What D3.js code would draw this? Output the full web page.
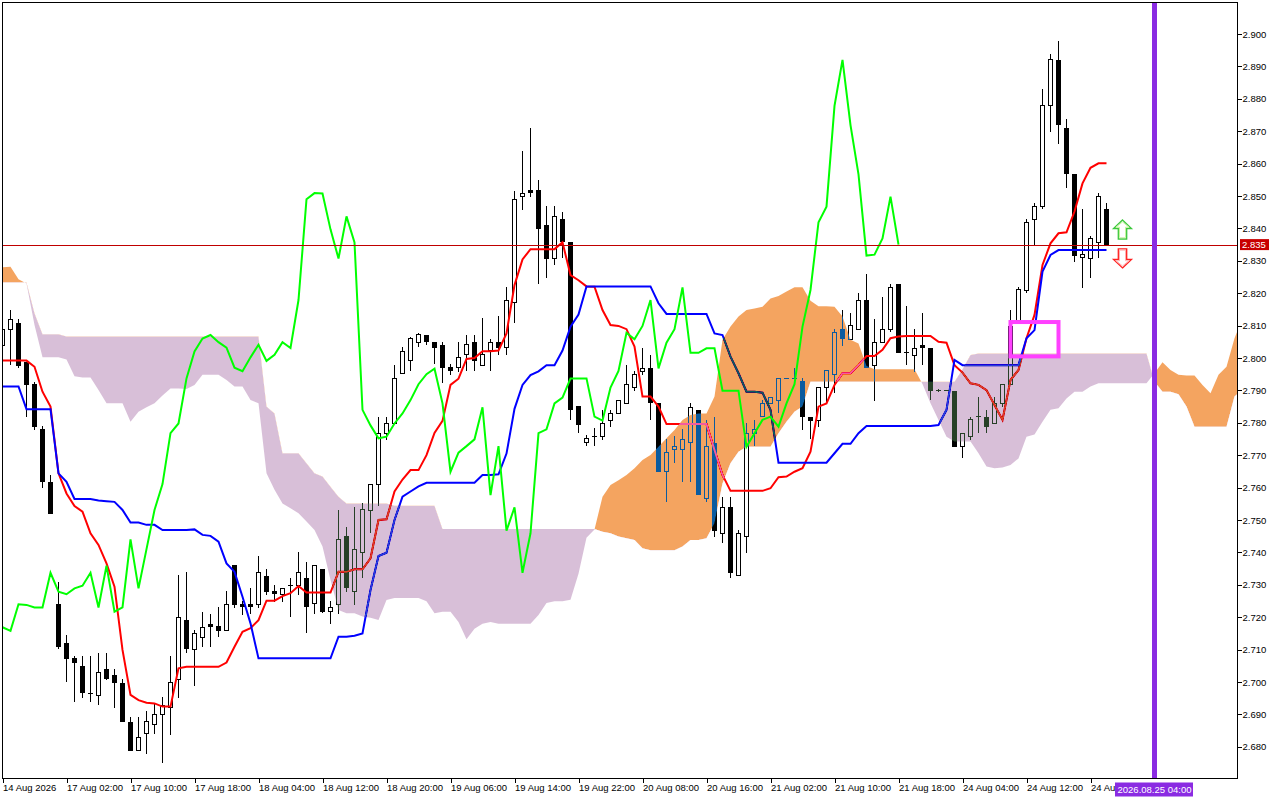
<!DOCTYPE html>
<html>
<head>
<meta charset="utf-8">
<title>Ichimoku H1</title>
<script src="https://cdn.jsdelivr.net/npm/d3@7"></script>
<style>
  body { margin: 0; background: #fff; }
  svg { display: block; font-family: "Liberation Sans", Arial, sans-serif; font-size: 9.5px; }
  .axis text { fill: #000; }
  .axis line { stroke: #000; shape-rendering: crispEdges; }
</style>
</head>
<body>
<div id="chart"></div>
<script>
// hourly candles, bar 0 = 14 Aug 2026 (left edge of the window)
const open = [
  2.8040, 2.8089, 2.8109, 2.7989, 2.7920, 2.7780, 2.7618, 2.7241, 2.7121, 2.7073,
  2.7049, 2.6967, 2.6958, 2.7039, 2.7021, 2.6998, 2.6878, 2.6788, 2.6840, 2.6869,
  2.6900, 2.6922, 2.7008, 2.7191, 2.7101, 2.7138, 2.7179, 2.7172, 2.7158, 2.7361,
  2.7241, 2.7241, 2.7238, 2.7328, 2.7281, 2.7271, 2.7297, 2.7297, 2.7320, 2.7241,
  2.7349, 2.7217, 2.7240, 2.7451, 2.7279, 2.7400, 2.7529, 2.7611, 2.7768, 2.7798,
  2.7951, 2.7991, 2.8049, 2.8071, 2.8049, 2.8041, 2.7972, 2.7970, 2.8010, 2.8049,
  2.7978, 2.8023, 2.8049, 2.8032, 2.8172, 2.8498, 2.8518, 2.8518, 2.8410, 2.8307,
  2.8428, 2.8359, 2.7851, 2.7739, 2.7757, 2.7757, 2.7807, 2.7829, 2.7860, 2.7909,
  2.7958, 2.7968, 2.7860, 2.7649, 2.7718, 2.7718, 2.7739, 2.7840, 2.7567, 2.7739,
  2.7459, 2.7539, 2.7330, 2.7449, 2.7768, 2.7819, 2.7860, 2.7870, 2.7937, 2.7937,
  2.7929, 2.7819, 2.7807, 2.7909, 2.7950, 2.8089, 2.8058, 2.8089, 2.8179, 2.7978,
  2.8047, 2.8089, 2.8228, 2.8016, 2.8009, 2.8040, 2.8030, 2.7899, 2.7899, 2.7899,
  2.7726, 2.7757, 2.7819, 2.7819, 2.7798, 2.7860, 2.7919, 2.8117, 2.8207, 2.8429,
  2.8467, 2.8778, 2.8920, 2.8709, 2.8567, 2.8310, 2.8308, 2.8357, 2.8460
];
const high = [
  2.8100, 2.8148, 2.8120, 2.7989, 2.7925, 2.7789, 2.7639, 2.7308, 2.7146, 2.7080,
  2.7080, 2.7080, 2.7089, 2.7089, 2.7039, 2.7008, 2.6893, 2.6893, 2.6911, 2.6932,
  2.6953, 2.7080, 2.7330, 2.7340, 2.7160, 2.7217, 2.7209, 2.7230, 2.7281, 2.7361,
  2.7251, 2.7289, 2.7389, 2.7349, 2.7299, 2.7289, 2.7322, 2.7400, 2.7369, 2.7359,
  2.7349, 2.7250, 2.7531, 2.7479, 2.7541, 2.7552, 2.7611, 2.7819, 2.7819, 2.7978,
  2.8034, 2.8065, 2.8078, 2.8071, 2.8049, 2.8049, 2.7981, 2.8049, 2.8071, 2.8071,
  2.8122, 2.8060, 2.8129, 2.8219, 2.8516, 2.8638, 2.8710, 2.8548, 2.8469, 2.8469,
  2.8452, 2.8359, 2.7851, 2.7763, 2.7784, 2.7840, 2.7840, 2.7870, 2.7978, 2.7960,
  2.8030, 2.8009, 2.7860, 2.7749, 2.7759, 2.7780, 2.7860, 2.7840, 2.7809, 2.7819,
  2.7570, 2.7570, 2.7469, 2.7798, 2.7809, 2.7870, 2.7878, 2.7937, 2.7937, 2.7968,
  2.7937, 2.7819, 2.7909, 2.7960, 2.8089, 2.8148, 2.8138, 2.8200, 2.8259, 2.8119,
  2.8187, 2.8228, 2.8228, 2.8160, 2.8089, 2.8138, 2.8030, 2.7905, 2.7899, 2.7899,
  2.7768, 2.7819, 2.7881, 2.7840, 2.7881, 2.7919, 2.8148, 2.8220, 2.8429, 2.8477,
  2.8830, 2.8937, 2.8978, 2.8737, 2.8567, 2.8460, 2.8378, 2.8508, 2.8477
];
const low = [
  2.8020, 2.7978, 2.7970, 2.7819, 2.7778, 2.7598, 2.7518, 2.7101, 2.7001, 2.6939,
  2.6950, 2.6939, 2.6929, 2.7005, 2.6919, 2.6878, 2.6788, 2.6788, 2.6778, 2.6840,
  2.6749, 2.6836, 2.6950, 2.7089, 2.6988, 2.7109, 2.7109, 2.7138, 2.7158, 2.7227,
  2.7207, 2.7210, 2.7227, 2.7269, 2.7248, 2.7248, 2.7202, 2.7269, 2.7150, 2.7210,
  2.7213, 2.7178, 2.7209, 2.7279, 2.7238, 2.7320, 2.7459, 2.7543, 2.7747, 2.7798,
  2.7951, 2.7959, 2.8034, 2.8039, 2.7981, 2.7922, 2.7949, 2.7957, 2.7959, 2.7959,
  2.7978, 2.7959, 2.8010, 2.8010, 2.8108, 2.8458, 2.8498, 2.8227, 2.8248, 2.8288,
  2.8309, 2.7809, 2.7769, 2.7728, 2.7728, 2.7747, 2.7788, 2.7829, 2.7860, 2.7899,
  2.7948, 2.7809, 2.7649, 2.7557, 2.7677, 2.7618, 2.7618, 2.7577, 2.7557, 2.7449,
  2.7428, 2.7320, 2.7330, 2.7399, 2.7728, 2.7819, 2.7860, 2.7829, 2.7937, 2.7937,
  2.7778, 2.7749, 2.7788, 2.7860, 2.7891, 2.8037, 2.8058, 2.8089, 2.7968, 2.7868,
  2.8047, 2.8079, 2.8016, 2.7978, 2.7958, 2.7978, 2.7870, 2.7895, 2.7899, 2.7726,
  2.7690, 2.7747, 2.7768, 2.7768, 2.7798, 2.7850, 2.7919, 2.8110, 2.8200, 2.8349,
  2.8460, 2.8699, 2.8660, 2.8526, 2.8297, 2.8217, 2.8248, 2.8308, 2.8350
];
const close = [
  2.8089, 2.8119, 2.7975, 2.7917, 2.7787, 2.7618, 2.7518, 2.7109, 2.7070, 2.7060,
  2.6967, 2.6965, 2.7030, 2.7008, 2.6998, 2.6878, 2.6788, 2.6829, 2.6878, 2.6900,
  2.6928, 2.6999, 2.7200, 2.7101, 2.7150, 2.7169, 2.7169, 2.7158, 2.7240, 2.7238,
  2.7230, 2.7230, 2.7337, 2.7279, 2.7271, 2.7289, 2.7297, 2.7337, 2.7230, 2.7359,
  2.7217, 2.7230, 2.7440, 2.7289, 2.7410, 2.7531, 2.7611, 2.7768, 2.7798, 2.7937,
  2.8020, 2.8060, 2.8071, 2.8049, 2.8032, 2.7970, 2.7959, 2.8002, 2.8041, 2.7991,
  2.8010, 2.8049, 2.8031, 2.8179, 2.8490, 2.8509, 2.8508, 2.8397, 2.8307, 2.8437,
  2.8357, 2.7840, 2.7792, 2.7752, 2.7757, 2.7798, 2.7829, 2.7870, 2.7919, 2.7950,
  2.7967, 2.7860, 2.7649, 2.7708, 2.7728, 2.7749, 2.7848, 2.7577, 2.7728, 2.7467,
  2.7539, 2.7337, 2.7459, 2.7768, 2.7780, 2.7860, 2.7878, 2.7937, 2.7937, 2.7937,
  2.7819, 2.7807, 2.7909, 2.7960, 2.8078, 2.8058, 2.8099, 2.8179, 2.7968, 2.8047,
  2.8089, 2.8218, 2.8016, 2.8016, 2.8030, 2.8030, 2.7899, 2.7899, 2.7899, 2.7726,
  2.7768, 2.7809, 2.7819, 2.7788, 2.7860, 2.7919, 2.8097, 2.8210, 2.8419, 2.8467,
  2.8778, 2.8920, 2.8719, 2.8567, 2.8316, 2.8319, 2.8369, 2.8498, 2.8350
];

// Ichimoku lines
const tenkan = [
  2.7992, 2.7992, 2.7992, 2.7992, 2.7973, 2.7896, 2.7850, 2.7644, 2.7582, 2.7543,
  2.7526, 2.7459, 2.7423, 2.7366, 2.7294, 2.7099, 2.6960, 2.6944, 2.6936, 2.6934,
  2.6924, 2.6924, 2.7042, 2.7047, 2.7047, 2.7047, 2.7047, 2.7047, 2.7060, 2.7109,
  2.7155, 2.7166, 2.7191, 2.7251, 2.7251, 2.7265, 2.7274, 2.7296, 2.7276, 2.7276,
  2.7276, 2.7276, 2.7340, 2.7340, 2.7348, 2.7348, 2.7382, 2.7500, 2.7502, 2.7588,
  2.7625, 2.7654, 2.7654, 2.7700, 2.7769, 2.7806, 2.7917, 2.7936, 2.7997, 2.8000,
  2.8021, 2.8021, 2.8023, 2.8076, 2.8225, 2.8304, 2.8336, 2.8336, 2.8336, 2.8336,
  2.8357, 2.8256, 2.8240, 2.8221, 2.8220, 2.8148, 2.8102, 2.8099, 2.8089, 2.8035,
  2.7881, 2.7881, 2.7850, 2.7796, 2.7796, 2.7796, 2.7796, 2.7796, 2.7796, 2.7716,
  2.7639, 2.7590, 2.7590, 2.7590, 2.7590, 2.7590, 2.7598, 2.7632, 2.7634, 2.7649,
  2.7660, 2.7711, 2.7850, 2.7860, 2.7917, 2.7953, 2.7953, 2.7978, 2.8006, 2.8006,
  2.8025, 2.8061, 2.8066, 2.8068, 2.8068, 2.8068, 2.8068, 2.8050, 2.8047, 2.7978,
  2.7955, 2.7922, 2.7917, 2.7901, 2.7855, 2.7809, 2.7932, 2.7963, 2.8061, 2.8133,
  2.8287, 2.8354, 2.8385, 2.8388, 2.8452, 2.8539, 2.8587, 2.8601, 2.8601
];
const kijun = [
  2.7912, 2.7912, 2.7912, 2.7842, 2.7842, 2.7842, 2.7842, 2.7644, 2.7618, 2.7565,
  2.7565, 2.7565, 2.7560, 2.7558, 2.7556, 2.7531, 2.7492, 2.7492, 2.7485, 2.7485,
  2.7469, 2.7469, 2.7469, 2.7469, 2.7471, 2.7454, 2.7451, 2.7433, 2.7366, 2.7340,
  2.7263, 2.7181, 2.7073, 2.7073, 2.7073, 2.7073, 2.7073, 2.7073, 2.7073, 2.7073,
  2.7073, 2.7073, 2.7140, 2.7140, 2.7143, 2.7150, 2.7284, 2.7389, 2.7399, 2.7500,
  2.7572, 2.7588, 2.7604, 2.7615, 2.7615, 2.7615, 2.7615, 2.7615, 2.7615, 2.7615,
  2.7639, 2.7639, 2.7641, 2.7705, 2.7843, 2.7917, 2.7947, 2.7959, 2.7978, 2.7978,
  2.8023, 2.8097, 2.8134, 2.8221, 2.8221, 2.8221, 2.8221, 2.8221, 2.8221, 2.8221,
  2.8221, 2.8221, 2.8169, 2.8136, 2.8136, 2.8136, 2.8136, 2.8136, 2.8136, 2.8076,
  2.8071, 2.8004, 2.7953, 2.7896, 2.7896, 2.7893, 2.7840, 2.7677, 2.7677, 2.7677,
  2.7677, 2.7677, 2.7677, 2.7677, 2.7706, 2.7735, 2.7735, 2.7768, 2.7790, 2.7790,
  2.7790, 2.7790, 2.7790, 2.7790, 2.7790, 2.7790, 2.7790, 2.7793, 2.7840, 2.7994,
  2.7978, 2.7978, 2.7978, 2.7978, 2.7978, 2.7978, 2.7978, 2.7978, 2.8061, 2.8086,
  2.8267, 2.8318, 2.8333, 2.8333, 2.8333, 2.8333, 2.8333, 2.8333, 2.8333
];
// cloud, already shifted 26 bars forward (runs past the last candle)
const spanA = [
  2.8280, 2.8282, 2.8243, 2.8230, 2.8102, 2.8002, 2.8002, 2.8002, 2.7995, 2.7944,
  2.7940, 2.7940, 2.7901, 2.7860, 2.7860, 2.7860, 2.7803, 2.7834, 2.7848, 2.7860,
  2.7884, 2.7906, 2.7906, 2.7904, 2.7917, 2.7948, 2.7948, 2.7948, 2.7932, 2.7912,
  2.7912, 2.7870, 2.7860, 2.7644, 2.7593, 2.7551, 2.7536, 2.7521, 2.7495, 2.7469,
  2.7418, 2.7315, 2.7222, 2.7212, 2.7212, 2.7202, 2.7198, 2.7191, 2.7253, 2.7259,
  2.7259, 2.7259, 2.7259, 2.7249, 2.7212, 2.7217, 2.7217, 2.7185, 2.7132, 2.7164,
  2.7180, 2.7185, 2.7180, 2.7180, 2.7180, 2.7180, 2.7180, 2.7207, 2.7244, 2.7249,
  2.7249, 2.7254, 2.7334, 2.7445, 2.7471, 2.7572, 2.7608, 2.7623, 2.7639, 2.7660,
  2.7685, 2.7701, 2.7726, 2.7752, 2.7778, 2.7809, 2.7824, 2.7829, 2.7829, 2.7881,
  2.8056, 2.8097, 2.8128, 2.8148, 2.8153, 2.8158, 2.8184, 2.8191, 2.8205, 2.8218,
  2.8218, 2.8177, 2.8160, 2.8160, 2.8158, 2.8128, 2.8056, 2.8045, 2.7975, 2.7965,
  2.7965, 2.7965, 2.7965, 2.7965, 2.7965, 2.7920, 2.7860, 2.7809, 2.7757, 2.7742,
  2.7742, 2.7742, 2.7706, 2.7665, 2.7660, 2.7662, 2.7670, 2.7690, 2.7757, 2.7764,
  2.7803, 2.7840, 2.7845, 2.7875, 2.7896, 2.7896, 2.7912, 2.7922, 2.7922, 2.7922,
  2.7922, 2.7922, 2.7922, 2.7922, 2.7953, 2.7987, 2.7963, 2.7948, 2.7946, 2.7946,
  2.7917, 2.7891, 2.7948, 2.7973, 2.8061, 2.8122
];
const spanB = [
  2.8233, 2.8233, 2.8233, 2.8233, 2.8138, 2.8073, 2.8073, 2.8073, 2.8066, 2.8066,
  2.8066, 2.8066, 2.8066, 2.8066, 2.8066, 2.8066, 2.8066, 2.8066, 2.8066, 2.8066,
  2.8066, 2.8066, 2.8066, 2.8066, 2.8066, 2.8066, 2.8066, 2.8066, 2.8066, 2.8066,
  2.8066, 2.8066, 2.8066, 2.7850, 2.7829, 2.7706, 2.7706, 2.7706, 2.7675, 2.7644,
  2.7634, 2.7603, 2.7572, 2.7551, 2.7551, 2.7551, 2.7551, 2.7551, 2.7551, 2.7544,
  2.7544, 2.7544, 2.7544, 2.7544, 2.7544, 2.7472, 2.7472, 2.7472, 2.7472, 2.7472,
  2.7472, 2.7472, 2.7472, 2.7472, 2.7472, 2.7472, 2.7472, 2.7472, 2.7472, 2.7472,
  2.7472, 2.7472, 2.7472, 2.7472, 2.7472, 2.7464, 2.7459, 2.7449, 2.7444, 2.7438,
  2.7413, 2.7407, 2.7407, 2.7407, 2.7407, 2.7418, 2.7438, 2.7438, 2.7444, 2.7490,
  2.7613, 2.7675, 2.7711, 2.7726, 2.7726, 2.7726, 2.7726, 2.7768, 2.7803, 2.7834,
  2.7850, 2.7927, 2.7927, 2.7927, 2.7927, 2.7927, 2.7927, 2.7927, 2.7927, 2.7927,
  2.7927, 2.7927, 2.7927, 2.7927, 2.7927, 2.7927, 2.7927, 2.7927, 2.7927, 2.7927,
  2.7965, 2.8009, 2.8014, 2.8014, 2.8014, 2.8014, 2.8014, 2.8014, 2.8014, 2.8014,
  2.8014, 2.8014, 2.8014, 2.8014, 2.8014, 2.8014, 2.8014, 2.8014, 2.8014, 2.8014,
  2.8014, 2.8014, 2.8014, 2.8014, 2.7927, 2.7896, 2.7896, 2.7888, 2.7850, 2.7788,
  2.7788, 2.7788, 2.7788, 2.7788, 2.7881, 2.7902
];
const chikouShift = 26;

const priceTicks = [2.680, 2.690, 2.700, 2.710, 2.720, 2.730, 2.740, 2.750, 2.760, 2.770, 2.780,
  2.790, 2.800, 2.810, 2.820, 2.830, 2.840, 2.850, 2.860, 2.870, 2.880, 2.890, 2.900];
const timeTickBars = [0, 8, 16, 24, 32, 40, 48, 56, 64, 72, 80, 88, 96, 104, 112, 120, 128, 136];
const timeTickLabels = ["14 Aug 2026", "17 Aug 02:00", "17 Aug 10:00", "17 Aug 18:00", "18 Aug 04:00",
  "18 Aug 12:00", "18 Aug 20:00", "19 Aug 06:00", "19 Aug 14:00", "19 Aug 22:00", "20 Aug 08:00",
  "20 Aug 16:00", "21 Aug 02:00", "21 Aug 10:00", "21 Aug 18:00", "24 Aug 04:00", "24 Aug 12:00",
  "24 Aug 20:00"];

const lastPrice = 2.835;
const vline = { bar: 144, label: "2026.08.25 04:00" };
const box = { bar1: 126, bar2: 132, price1: 2.8111, price2: 2.8005 };
const arrows = [
  { bar: 140, price: 2.8426, dir: "up" },
  { bar: 140, price: 2.8278, dir: "down" }
];

// layout
const W = 1280, H = 800;
const pLeft = 2.5, pTop = 2.5, pRight = 1237.5, pBottom = 778.5;

const x = d3.scaleLinear().domain([0, 100]).range([2.5, 802.5]);   // 8px per bar
const y = d3.scaleLinear().domain([2.680, 2.900]).range([746.8, 34]);

const svg = d3.select("#chart").append("svg")
    .attr("width", W)
    .attr("height", H);

svg.append("rect").attr("width", W).attr("height", H).attr("fill", "#fff");

const defs = svg.append("defs");
defs.append("clipPath").attr("id", "plot-clip")
  .append("rect")
    .attr("x", pLeft).attr("y", pTop)
    .attr("width", pRight - pLeft).attr("height", pBottom - pTop);

const cloudIdx = d3.range(spanA.length);
defs.append("clipPath").attr("id", "above-b")
  .append("path")
    .attr("d", d3.area().x(i => x(i)).y0(i => y(spanB[i])).y1(-10)(cloudIdx));
defs.append("clipPath").attr("id", "below-b")
  .append("path")
    .attr("d", d3.area().x(i => x(i)).y0(i => y(spanB[i])).y1(H + 10)(cloudIdx));

const plotG = svg.append("g").attr("clip-path", "url(#plot-clip)");
plotG.append("rect")
    .attr("x", pLeft).attr("y", pTop)
    .attr("width", pRight - pLeft).attr("height", pBottom - pTop)
    .attr("fill", "#fff");

////////////////////////////////////////////////////////////
// candles
////////////////////////////////////////////////////////////
const bars = d3.range(close.length);
const candleG = plotG.append("g").attr("shape-rendering", "crispEdges");

candleG.selectAll("line.wick")
  .data(bars)
  .join("line")
    .attr("class", "wick")
    .attr("x1", i => x(i)).attr("x2", i => x(i))
    .attr("y1", i => y(high[i])).attr("y2", i => y(low[i]))
    .attr("stroke", "#000");

candleG.selectAll("path.body")
  .data(bars)
  .join("path")
    .attr("class", "body")
    .attr("d", i => {
      const cx = x(i), yo = y(open[i]), yc = y(close[i]);
      if (Math.abs(yo - yc) < 1) return `M${cx - 2.5},${yc}H${cx + 2.5}`;
      if (close[i] > open[i]) return `M${cx - 2},${yc}H${cx + 2}V${yo}H${cx - 2}Z`;
      return `M${cx - 2.5},${yo}H${cx + 2.5}V${yc}H${cx - 2.5}Z`;
    })
    .attr("fill", i => close[i] > open[i] ? "#fff" : "#000")
    .attr("stroke", i => close[i] > open[i] || Math.abs(y(open[i]) - y(close[i])) < 1 ? "#000" : "none");

////////////////////////////////////////////////////////////
// tenkan / kijun
////////////////////////////////////////////////////////////
const line = d3.line().x((d, i) => x(i)).y(d => y(d));

plotG.append("path")
    .attr("d", line(tenkan))
    .attr("fill", "none").attr("stroke", "#ff0000").attr("stroke-width", 2);
plotG.append("path")
    .attr("d", line(kijun))
    .attr("fill", "none").attr("stroke", "#0000ff").attr("stroke-width", 2);

////////////////////////////////////////////////////////////
// kumo - painted like the terminal does, inverting what is under it
////////////////////////////////////////////////////////////
const cloudArea = d3.area().x(i => x(i)).y0(i => y(spanB[i])).y1(i => y(spanA[i]));
const cloudG = plotG.append("g").style("mix-blend-mode", "difference");
// sandy brown where A is above B (inverse colour, blended by difference)
cloudG.append("path")
    .attr("d", cloudArea(cloudIdx))
    .attr("clip-path", "url(#above-b)")
    .attr("fill", "#0b5b9f");
// thistle where B is above A
cloudG.append("path")
    .attr("d", cloudArea(cloudIdx))
    .attr("clip-path", "url(#below-b)")
    .attr("fill", "#274027");

////////////////////////////////////////////////////////////
// objects
////////////////////////////////////////////////////////////
plotG.append("rect")
    .attr("x", x(box.bar1)).attr("y", y(box.price1))
    .attr("width", x(box.bar2) - x(box.bar1))
    .attr("height", y(box.price2) - y(box.price1))
    .attr("fill", "none").attr("stroke", "#ff40ff").attr("stroke-width", 4);

// chikou = close shifted back 26 bars
const chikou = close.slice(chikouShift);
plotG.append("path")
    .attr("d", line(chikou))
    .attr("fill", "none").attr("stroke", "#00ff00").attr("stroke-width", 2);

// bid line
plotG.append("line")
    .attr("x1", pLeft).attr("x2", pRight)
    .attr("y1", Math.round(y(lastPrice)) + 0.5).attr("y2", Math.round(y(lastPrice)) + 0.5)
    .attr("stroke", "#c00000").attr("stroke-width", 1);

// vertical line
plotG.append("line")
    .attr("x1", x(vline.bar)).attr("x2", x(vline.bar))
    .attr("y1", pTop).attr("y2", pBottom)
    .attr("stroke", "#8a2be2").attr("stroke-width", 5);

// arrows
const arrowG = plotG.append("g").selectAll("g")
  .data(arrows)
  .join("g")
    .attr("transform", d => `translate(${x(d.bar)},${y(d.price)}) scale(1,${d.dir === "up" ? 1 : -1})`);
arrowG.append("path")
    .attr("d", "M0,0L9,8.5H4.2V19H-4.2V8.5H-9Z")
    .attr("fill", "#fff")
    .attr("stroke", d => d.dir === "up" ? "#3cc83c" : "#ff2020")
    .attr("stroke-width", 1.3);
arrowG.append("path")
    .attr("d", "M0,2L6.5,7.2H3V17.8H-3V7.2H-6.5Z")
    .attr("fill", "none")
    .attr("stroke", d => d.dir === "up" ? "#c6f3a0" : "#ffb0b0")
    .attr("stroke-width", 1);

////////////////////////////////////////////////////////////
// frame and axes
////////////////////////////////////////////////////////////
svg.append("rect")
    .attr("x", pLeft).attr("y", pTop)
    .attr("width", pRight - pLeft).attr("height", pBottom - pTop)
    .attr("fill", "none").attr("stroke", "#000")
    .attr("shape-rendering", "crispEdges");

const yAxis = d3.axisRight(y)
    .tickValues(priceTicks)
    .tickSize(4)
    .tickPadding(1)
    .tickFormat(d3.format(".3f"));
svg.append("g")
    .attr("class", "axis")
    .attr("transform", `translate(${pRight},0)`)
    .call(yAxis)
    .call(g => g.select(".domain").remove())
    .call(g => g.selectAll("text").attr("font-size", 9.5));

// the vertical line's date tag sits over the last time label, cut it there
const tagLeft = x(vline.bar) - 39.5;
const lastTickX = x(timeTickBars[timeTickBars.length - 1]);
defs.append("clipPath").attr("id", "last-label-clip")
  .append("rect")
    .attr("x", -4).attr("y", -2)
    .attr("width", tagLeft - lastTickX + 4).attr("height", 24);

const xAxis = d3.axisBottom(x)
    .tickValues(timeTickBars)
    .tickSize(4)
    .tickPadding(2)
    .tickFormat((d, i) => timeTickLabels[i]);
svg.append("g")
    .attr("class", "axis")
    .attr("transform", `translate(0,${pBottom})`)
    .call(xAxis)
    .call(g => g.select(".domain").remove())
    .call(g => g.selectAll("text").attr("text-anchor", "start").attr("font-size", 9.5))
    .call(g => g.selectAll(".tick").filter((d, i) => i === timeTickBars.length - 1)
        .select("text").attr("clip-path", "url(#last-label-clip)"));

// last price tag
const py = y(lastPrice);
svg.append("rect")
    .attr("x", 1240).attr("y", py - 5.5)
    .attr("width", 29).attr("height", 11)
    .attr("fill", "#c80000");
svg.append("text")
    .attr("x", 1242).attr("y", py)
    .attr("dy", "0.35em")
    .attr("fill", "#fff")
    .attr("font-size", 9.5)
    .text(d3.format(".3f")(lastPrice));

// vertical line date tag
svg.append("rect")
    .attr("x", tagLeft).attr("y", 782.5)
    .attr("width", 78).attr("height", 14)
    .attr("fill", "#8a2be2");
svg.append("text")
    .attr("x", x(vline.bar)).attr("y", 789.5)
    .attr("dy", "0.35em")
    .attr("text-anchor", "middle")
    .attr("fill", "#fff")
    .attr("font-size", 9.5)
    .text(vline.label);
</script>
</body>
</html>
